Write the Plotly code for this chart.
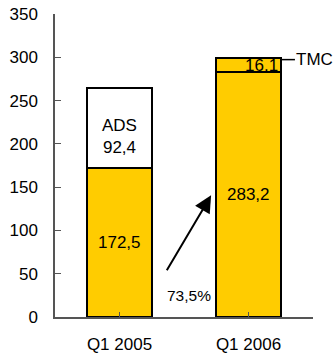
import plotly.graph_objects as go

categories = ["Q1 2005", "Q1 2006"]
base_values = [172.5, 283.2]
top_values = [92.4, 16.1]
base_labels = ["172,5", "283,2"]
top_labels = ["ADS<br>92,4", "16.1"]
growth_label = "73,5%"
y_ticks = [0, 50, 100, 150, 200, 250, 300, 350]

GOLD = "#FFCC00"
FONT = "Liberation Sans, Arial, sans-serif"
FS = 17

fig = go.Figure()
fig.add_trace(go.Bar(
    x=[0, 1], y=base_values, width=0.5,
    marker=dict(color=GOLD, line=dict(color="black", width=2)),
    hoverinfo="skip",
))
fig.add_trace(go.Bar(
    x=[0, 1], y=top_values, width=0.5,
    marker=dict(color=["white", GOLD], line=dict(color="black", width=2)),
    hoverinfo="skip",
))

ann = []
for i, (v, t) in enumerate(zip(base_values, base_labels)):
    ann.append(dict(x=i, y=v / 2, text=t, showarrow=False,
                    font=dict(size=FS, color="black", family=FONT)))
ann.append(dict(x=0, y=base_values[0] + top_values[0] / 2 - 10, text=top_labels[0],
                showarrow=False, font=dict(size=FS, color="black", family=FONT)))
ann.append(dict(x=1.245, y=base_values[1], text=top_labels[1], showarrow=False,
                xanchor="right", yanchor="bottom", yshift=-5,
                font=dict(size=FS, color="black", family=FONT)))
tmc_y = base_values[1] + top_values[1] - 2
ann.append(dict(x=1.355, y=tmc_y, text="TMC", showarrow=False,
                xanchor="left", yanchor="middle",
                font=dict(size=FS, color="black", family=FONT)))
ann.append(dict(x=0.71, y=140.5, ax=0.36, ay=52.4, xref="x", yref="y",
                axref="x", ayref="y", text="", showarrow=True,
                arrowhead=2, arrowsize=1.7, arrowwidth=2, arrowcolor="black"))
ann.append(dict(x=0.535, y=25, text=growth_label, showarrow=False,
                font=dict(size=15.5, color="black", family=FONT)))

fig.add_shape(type="line", x0=1.25, x1=1.36, y0=tmc_y, y1=tmc_y,
              xref="x", yref="y", line=dict(color="black", width=1.5))

fig.update_layout(
    barmode="stack",
    width=335, height=356,
    margin=dict(l=55, r=22, t=14, b=39),
    paper_bgcolor="white", plot_bgcolor="white",
    showlegend=False,
    font=dict(family=FONT, size=FS, color="black"),
    annotations=ann,
    xaxis=dict(
        tickmode="array", tickvals=[0, 1], ticktext=categories,
        range=[-0.5, 1.5], showline=True, linecolor="#555", linewidth=1.5,
        ticks="inside", ticklen=5, tickcolor="#555", tickson="boundaries",
        showgrid=False, zeroline=False, tickfont=dict(size=FS, family=FONT),
        ticklabelstandoff=11, automargin=False,
    ),
    yaxis=dict(
        range=[0, 350], tickvals=y_ticks, showline=True, linecolor="#555", linewidth=1.5,
        ticks="inside", ticklen=6, tickcolor="#555", showgrid=False, zeroline=False,
        tickfont=dict(size=FS, family=FONT), ticklabelstandoff=12, automargin=False,
    ),
)

fig.write_html("out.html")
